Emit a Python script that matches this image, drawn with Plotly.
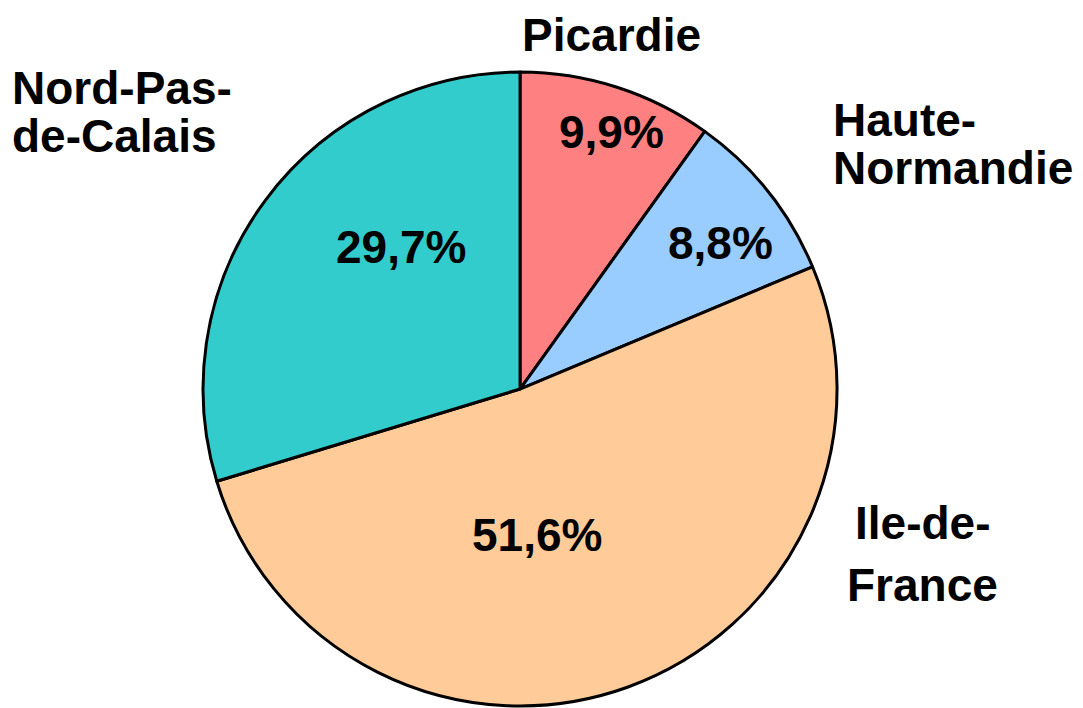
import plotly.graph_objects as go

regions = ["Picardie", "Haute-Normandie", "Ile-de-France", "Nord-Pas-de-Calais"]
shares = [9.9, 8.8, 51.6, 29.7]
colors = ["#FF8080", "#99CCFF", "#FFCC99", "#33CCCC"]
# outside label lines, as printed in the chart
label_lines = {
    "Picardie": ["Picardie"],
    "Haute-Normandie": ["Haute-", "Normandie"],
    "Ile-de-France": ["Ile-de-", "France"],
    "Nord-Pas-de-Calais": ["Nord-Pas-", "de-Calais"],
}

W, H = 1083, 708
FONT = "Liberation Sans, Arial, sans-serif"
FS = 46
OFF = 8  # page body margin in the browser

fig = go.Figure(go.Pie(
    labels=regions,
    values=shares,
    sort=False,
    direction="clockwise",
    rotation=0,
    marker=dict(colors=colors, line=dict(color="black", width=3)),
    textinfo="none",
    domain=dict(x=[0.1801, 0.7655], y=[0.0141, 0.9096]),
    showlegend=False,
    hoverinfo="label+percent",
))

# label placement (target pixel anchors in the screenshot)
label_pos = {
    "Picardie": [(611, 36, "center")],
    "Haute-Normandie": [(831, 121, "left"), (831, 169, "left")],
    "Ile-de-France": [(922, 524, "center"), (922, 586, "center")],
    "Nord-Pas-de-Calais": [(10, 89, "left"), (10, 137, "left")],
}
pct_pos = {
    "Picardie": (611, 133),
    "Haute-Normandie": (720, 244),
    "Ile-de-France": (537, 536),
    "Nord-Pas-de-Calais": (401, 248),
}


def ann(text, px, py, xa):
    return dict(
        text=f"<b>{text}</b>", x=(px - OFF) / W, y=1 - (py - OFF - 1) / H,
        xref="paper", yref="paper", xanchor=xa, yanchor="middle",
        showarrow=False, font=dict(family=FONT, size=FS, color="black"),
    )


annotations = []
for name, v in zip(regions, shares):
    for line, (px, py, xa) in zip(label_lines[name], label_pos[name]):
        annotations.append(ann(line, px, py, xa))
    pct = f"{v:.1f}".replace(".", ",") + "%"
    px, py = pct_pos[name]
    annotations.append(ann(pct, px, py, "center"))

fig.update_layout(
    width=W, height=H,
    margin=dict(l=0, r=0, t=0, b=0),
    paper_bgcolor="white",
    plot_bgcolor="white",
    annotations=annotations,
)

fig.write_html("out.html")
